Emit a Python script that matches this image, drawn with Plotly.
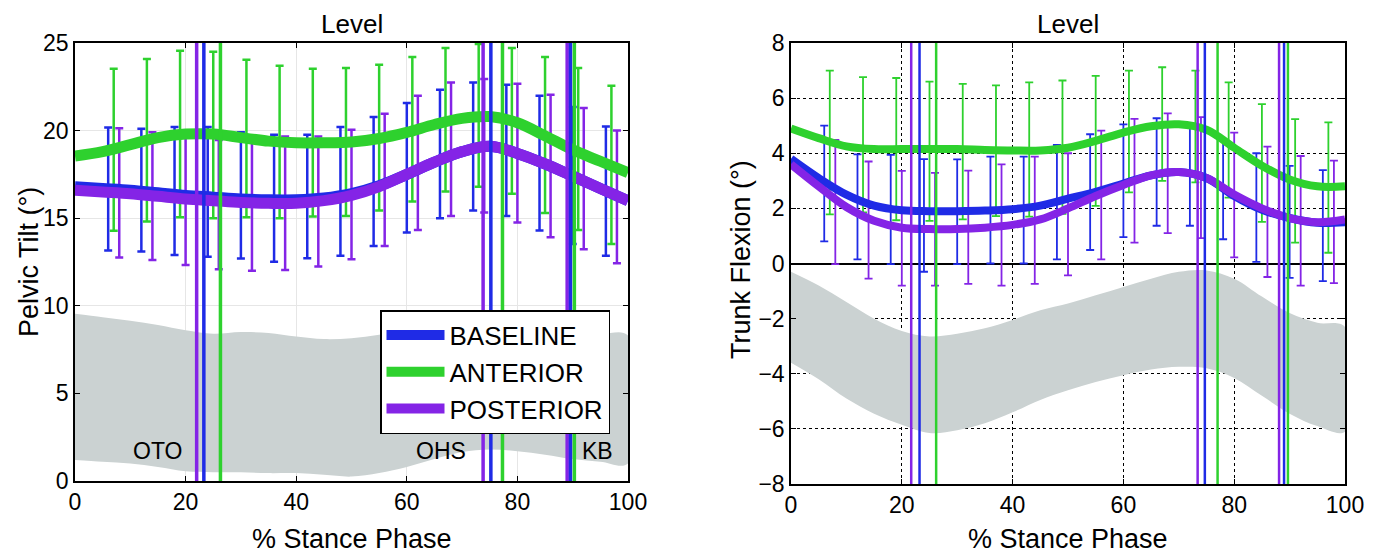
import plotly.graph_objects as go

# ---------------- data ----------------
X5 = list(range(0, 101, 5))

# Left panel: pelvic tilt mean curves
pel_baseline = [16.8, 16.7, 16.6, 16.45, 16.3, 16.2, 16.1, 16.05, 16.05, 16.15, 16.4, 16.85, 17.5, 18.2, 18.8, 19.1, 18.7, 18.1, 17.4, 16.7, 16.0]
pel_anterior = [18.55, 18.8, 19.2, 19.6, 19.8, 19.8, 19.6, 19.4, 19.3, 19.3, 19.35, 19.55, 19.9, 20.35, 20.7, 20.8, 20.45, 19.7, 18.9, 18.25, 17.6]
pel_posterior = [16.6, 16.5, 16.4, 16.25, 16.1, 16.0, 15.9, 15.85, 15.85, 16.0, 16.3, 16.8, 17.5, 18.2, 18.8, 19.1, 18.7, 18.1, 17.4, 16.7, 16.0]
pel_norm_upper = [9.55, 9.35, 9.15, 8.9, 8.6, 8.4, 8.5, 8.45, 8.25, 8.1, 8.15, 8.35, 8.6, 8.85, 9.0, 9.0, 8.9, 8.7, 8.5, 8.4, 8.3]
pel_norm_lower = [1.2, 1.1, 1.0, 0.8, 0.55, 0.5, 0.5, 0.45, 0.45, 0.35, 0.25, 0.45, 0.8, 1.25, 1.65, 1.8, 1.7, 1.5, 1.25, 1.1, 1.0]

# error-bar positions (% stance); series are offset by 1 % from each other
err_pos = [6, 12, 18, 24, 30, 36, 42, 48, 54, 60, 66, 72, 78, 84, 90, 96]
pel_base_top = [20.18, 20.1, 20.2, 20.2, 19.9, 19.76, 19.76, 20.2, 20.77, 21.57, 22.33, 22.75, 22.62, 21.99, 21.34, 20.24]
pel_base_bot = [13.15, 13.1, 12.9, 12.8, 12.7, 12.52, 12.71, 12.85, 13.42, 14.18, 15.0, 15.44, 15.13, 14.3, 13.53, 12.85]
pel_ant_top = [23.53, 24.09, 24.56, 24.5, 24.05, 23.7, 23.53, 23.57, 23.76, 24.2, 24.71, 24.95, 24.71, 24.2, 23.57, 22.56]
pel_ant_bot = [14.28, 14.81, 15.05, 15.0, 15.05, 15.0, 15.1, 15.13, 15.44, 15.95, 16.52, 16.8, 16.39, 15.29, 14.33, 13.53]
pel_post_top = [20.14, 19.9, 19.65, 19.46, 19.65, 19.67, 19.67, 20.05, 20.96, 21.99, 22.75, 22.94, 22.68, 22.05, 21.29, 20.01]
pel_post_bot = [12.75, 12.62, 12.33, 12.08, 12.0, 12.05, 12.24, 12.66, 13.42, 14.33, 15.13, 15.32, 14.75, 13.91, 13.23, 12.43]

# Right panel: trunk flexion mean curves
tr_baseline = [3.8, 3.1, 2.5, 2.1, 1.93, 1.9, 1.9, 1.92, 1.97, 2.1, 2.35, 2.6, 2.9, 3.2, 3.32, 3.1, 2.45, 1.95, 1.65, 1.48, 1.5]
tr_anterior = [4.9, 4.55, 4.25, 4.15, 4.15, 4.15, 4.15, 4.12, 4.1, 4.1, 4.2, 4.45, 4.75, 4.98, 5.05, 4.85, 4.2, 3.55, 3.05, 2.8, 2.8]
tr_posterior = [3.6, 2.8, 2.05, 1.55, 1.3, 1.25, 1.25, 1.3, 1.4, 1.6, 2.0, 2.45, 2.85, 3.2, 3.32, 3.1, 2.5, 2.0, 1.65, 1.5, 1.6]
tr_norm_upper = [-0.3, -0.8, -1.4, -2.0, -2.45, -2.65, -2.55, -2.35, -2.05, -1.7, -1.45, -1.15, -0.85, -0.55, -0.3, -0.25, -0.55, -1.2, -1.8, -2.15, -2.3]
tr_norm_lower = [-3.6, -4.2, -4.9, -5.45, -5.85, -6.15, -6.05, -5.8, -5.4, -4.95, -4.6, -4.3, -4.05, -3.85, -3.75, -3.8, -4.15, -4.8, -5.45, -5.9, -6.1]

tr_base_top = [5.0, 3.96, 3.94, 3.79, 3.78, 3.88, 3.88, 4.3, 4.69, 5.05, 5.27, 5.09, 4.48, 4.0, 3.54, 3.39]
tr_base_bot = [0.8, 0.15, -0.02, -0.3, -0.02, 0.0, 0.0, 0.15, 0.49, 0.96, 1.37, 1.37, 0.88, 0.06, -0.52, -0.64]
tr_ant_top = [7.0, 6.76, 6.73, 6.6, 6.52, 6.46, 6.57, 6.64, 6.81, 7.0, 7.12, 7.0, 6.57, 5.78, 5.24, 5.12]
tr_ant_bot = [1.78, 1.85, 1.57, 1.55, 1.6, 1.72, 1.7, 1.8, 2.09, 2.58, 3.0, 2.94, 2.39, 1.51, 0.76, 0.39]
tr_post_top = [4.48, 3.7, 3.36, 3.29, 3.37, 3.6, 3.88, 4.0, 4.82, 5.25, 5.45, 5.31, 4.75, 4.24, 3.9, 3.73]
tr_post_bot = [-0.02, -0.55, -0.8, -0.8, -0.74, -0.8, -0.74, -0.43, 0.15, 0.76, 1.1, 0.92, 0.22, -0.49, -0.8, -0.71]

# gait events (% stance): OTO, OHS, KB  (left panel / right panel)
pel_ev_baseline = [23.3, 75.2, 89.6]
pel_ev_anterior = [26.3, 77.3, 90.3]
pel_ev_posterior = [22.0, 73.8, 89.0]
tr_ev_baseline = [23.2, 74.7, 89.0]
tr_ev_anterior = [26.2, 77.0, 89.7]
tr_ev_posterior = [21.7, 73.4, 88.1]
ev_labels = ["OTO", "OHS", "KB"]
ev_label_x = [15, 66.2, 94.4]

series_names = ["BASELINE", "ANTERIOR", "POSTERIOR"]
series_offsets = [0, 1, 2]

# ---------------- styles ----------------
C_BLUE = "#1f2be6"
C_GREEN = "#2ed12e"
C_PURPLE = "#8424e6"
C_BAND = "#cbd2d2"
colors = [C_BLUE, C_GREEN, C_PURPLE]
FONT = "Liberation Sans, Arial, Helvetica, sans-serif"

fig = go.Figure()


def add_panel(xa, ya, means, band_up, band_lo, tops, bots, events, ylo, yhi,
              mean_w, err_w, ev_w, showlegend):
    fig.add_trace(go.Scatter(x=X5 + X5[::-1], y=band_up + band_lo[::-1], fill="toself",
                             fillcolor=C_BAND, line=dict(width=0, shape="spline"),
                             mode="lines", hoverinfo="skip", showlegend=False,
                             xaxis=xa, yaxis=ya))
    for k in range(3):
        xs = [p + series_offsets[k] for p in err_pos]
        mids = [(t + b) / 2 for t, b in zip(tops[k], bots[k])]
        fig.add_trace(go.Scatter(
            x=xs, y=mids, mode="markers", marker=dict(size=0.1, color=colors[k], opacity=0),
            error_y=dict(type="data", symmetric=False,
                         array=[t - m for t, m in zip(tops[k], mids)],
                         arrayminus=[m - b for m, b in zip(mids, bots[k])],
                         color=colors[k], thickness=err_w, width=4),
            showlegend=False, hoverinfo="skip", xaxis=xa, yaxis=ya))
    for k in range(3):
        fig.add_trace(go.Scatter(x=X5, y=means[k], mode="lines", name=series_names[k],
                                 line=dict(color=colors[k], width=mean_w, shape="spline"),
                                 showlegend=showlegend, xaxis=xa, yaxis=ya))
    for k in [2, 0, 1]:
        for v in events[k]:
            fig.add_trace(go.Scatter(x=[v, v], y=[ylo, yhi], mode="lines",
                                     line=dict(color=colors[k], width=ev_w),
                                     showlegend=False, hoverinfo="skip",
                                     xaxis=xa, yaxis=ya))


add_panel("x", "y", [pel_baseline, pel_anterior, pel_posterior], pel_norm_upper, pel_norm_lower,
          [pel_base_top, pel_ant_top, pel_post_top], [pel_base_bot, pel_ant_bot, pel_post_bot],
          [pel_ev_baseline, pel_ev_anterior, pel_ev_posterior], 0, 25, 11, 2.5, 3.5, True)
add_panel("x2", "y2", [tr_baseline, tr_anterior, tr_posterior], tr_norm_upper, tr_norm_lower,
          [tr_base_top, tr_ant_top, tr_post_top], [tr_base_bot, tr_ant_bot, tr_post_bot],
          [tr_ev_baseline, tr_ev_anterior, tr_ev_posterior], -8, 8, 8, 1.8, 2.5, False)

# page has an 8px body margin: work in page pixels and subtract it
OFF = 8
W, H = 1375 - OFF, 557 - OFF
L1, R1, T1, B1 = 75 - OFF, 628 - OFF, 43 - OFF, 481 - OFF
L2, R2, T2, B2 = 791 - OFF, 1345 - OFF, 43 - OFF, 484 - OFF

axis_common = dict(showline=True, linecolor="black", linewidth=1.5, mirror="ticks",
                   ticks="inside", ticklen=5, tickcolor="black",
                   tickfont=dict(family=FONT, size=23, color="black"),
                   automargin=False)

fig.update_layout(
    width=W, height=H, margin=dict(l=0, r=0, t=0, b=0),
    paper_bgcolor="white", plot_bgcolor="white",
    font=dict(family=FONT, color="black"),
    xaxis=dict(domain=[L1 / W, R1 / W], range=[0, 100], dtick=20,
               showgrid=True, gridcolor="#e6e6e6", gridwidth=1, zeroline=False,
               anchor="y", **axis_common),
    yaxis=dict(domain=[(H - B1) / H, (H - T1) / H], range=[0, 25], dtick=5,
               showgrid=True, gridcolor="#e6e6e6", gridwidth=1, zeroline=False,
               anchor="x", **axis_common),
    xaxis2=dict(domain=[L2 / W, R2 / W], range=[0, 100], dtick=20,
                showgrid=True, gridcolor="black", griddash="dot", gridwidth=1.3, zeroline=False,
                anchor="y2", **axis_common),
    yaxis2=dict(domain=[(H - B2) / H, (H - T2) / H], range=[-8, 8], dtick=2,
                showgrid=True, gridcolor="black", griddash="dot", gridwidth=1.3,
                zeroline=True, zerolinecolor="black", zerolinewidth=2,
                anchor="x2", **axis_common),
    legend=dict(x=(380 - OFF) / W, y=(H - (310 - OFF)) / H, xanchor="left", yanchor="top",
                bgcolor="white", bordercolor="black", borderwidth=1.5,
                font=dict(family=FONT, size=26, color="black"),
                itemwidth=58, tracegroupgap=0),
    showlegend=True,
)

ann = []
for lab, xv in zip(ev_labels, ev_label_x):
    ann.append(dict(x=xv, y=1.7, xref="x", yref="y", text=lab, showarrow=False,
                    font=dict(family=FONT, size=23, color="black")))
titles = [
    ("% Stance Phase", (L1 + R1) / 2, 539 - OFF, 0), ("% Stance Phase", (L2 + R2) / 2, 539 - OFF, 0),
    ("Pelvic Tilt (°)", 29 - OFF, 262 - OFF, -90), ("Trunk Flexion (°)", 741 - OFF, 260 - OFF, -90),
]
for txt, px, py, ang in titles:
    ann.append(dict(x=px / W, y=(H - py) / H, xref="paper", yref="paper", text=txt,
                    showarrow=False, textangle=ang, xanchor="center", yanchor="middle",
                    font=dict(family=FONT, size=27, color="black")))
for px in [(L1 + R1) / 2, (L2 + R2) / 2]:
    ann.append(dict(x=px / W, y=1.0, xref="paper", yref="paper", text="Level",
                    showarrow=False, xanchor="center", yanchor="top", borderpad=0,
                    font=dict(family=FONT, size=26, color="black")))
fig.update_layout(annotations=ann)

fig.write_html("out.html")
